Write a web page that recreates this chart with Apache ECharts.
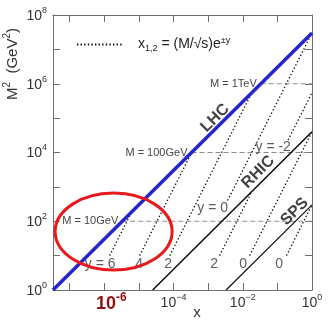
<!DOCTYPE html>
<html><head><meta charset="utf-8">
<script src="https://cdn.jsdelivr.net/npm/echarts@6/dist/echarts.min.js"></script>
<style>html,body{margin:0;padding:0;background:#fff}#c{width:332px;height:322px}</style>
</head><body><div id="c"></div>
<script>
// Kinematic limits (M^2 = x s): endpoints [x], [M^2 in GeV^2]
const lhcX = [3.3e-8, 1];
const lhcM2 = [1, 3.0e7];
const rhicX = [2.5e-5, 1];
const rhicM2 = [1, 4.0e4];
const spsX = [3.3e-3, 1];
const spsM2 = [1, 300];

// Constant-rapidity (dotted) lines: start / end points
const rapNames = ['LHC y=6', 'LHC y=4', 'LHC y=2', 'LHC y=0', 'LHC y=-2', 'RHIC y=2', 'RHIC y=0', 'SPS y=0'];
const rapX = [[1.43e-6, 6.15e-6], [1.05e-5, 3.37e-4], [7.8e-5, 1.83e-2], [3.64e-3, 1], [0.204, 1], [2.14e-3, 1.83e-2], [1.58e-2, 1], [0.183, 1]];
const rapM2 = [[10, 186], [10, 1.02e4], [10, 5.55e5], [400, 3.0e7], [2.3e4, 5.52e5], [10, 731], [10, 4.0e4], [10, 300]];

// Fixed-mass (dashed) lines
const massNames = ['M = 10GeV', 'M = 100GeV', 'M = 1TeV'];
const massM2 = [1e2, 1e4, 1e6];
const massXStart = [3.3e-6, 3.3e-4, 3.3e-2];
const massXEnd = [1, 1, 1];

// Axis ticks with labels (powers of ten)
const yLabelExps = [0, 2, 4, 6, 8];
const xLabelExps = [-6, -4, -2, 0];
const xHighlightExp = -6;

// Text annotations
const noteTexts = ['y = 6', '4', '2', '2', '0', '0', 'y = 0', 'y = -2'];
const noteX = [7.6e-7, 1.01e-5, 6.98e-5, 1.49e-3, 1.03e-2, 0.113, 1.35e-3, 7.57e-2];
const noteM2 = [5.7, 5.7, 5.7, 5.7, 5.7, 5.7, 243, 1.45e4];
const colliderNames = ['LHC', 'RHIC', 'SPS'];
const colliderLabelX = [1.59e-3, 2.79e-2, 0.316];
const colliderLabelM2 = [1.0e5, 2690, 190];

// Highlight ellipse centre (data coords)
const ringX = 1.86e-6, ringM2 = 50;

const chart = echarts.init(document.getElementById('c'), null, {renderer: 'canvas'});
const frame = '#6e6e6e';
const txt = '#333';
const ff = 'Liberation Sans, Arial';

function expOf(v) { const e = Math.log10(v); const r = Math.round(e); return Math.abs(e - r) < 1e-6 ? r : null; }

const axisCommon = {
  type: 'log', logBase: 10,
  axisLine: {show: true, onZero: false, lineStyle: {color: frame, width: 1}},
  axisTick: {show: true, inside: true, length: 7, lineStyle: {color: frame, width: 1}},
  splitLine: {show: false}, minorTick: {show: false}, minorSplitLine: {show: false},
  splitNumber: 8
};
const supRich = {
  b: {fontSize: 14, color: txt, fontFamily: ff, verticalAlign: 'bottom', lineHeight: 16},
  s: {fontSize: 9, color: txt, fontFamily: ff, verticalAlign: 'bottom', padding: [0, 0, 8, 0], lineHeight: 10},
  r: {fontSize: 18, fontWeight: 'bold', color: '#8e1111', fontFamily: ff, verticalAlign: 'bottom', lineHeight: 19, padding: [0, 0, 0, 14]},
  rs: {fontSize: 12, fontWeight: 'bold', color: '#8e1111', fontFamily: ff, verticalAlign: 'bottom', padding: [0, 0, 9, 0], lineHeight: 12}
};

const series = [];
series.push({name: 'LHC', type: 'line', data: lhcX.map((x, i) => [x, lhcM2[i]]), showSymbol: false, symbol: 'none', lineStyle: {color: '#2525cc', width: 3.5}, z: 5, silent: true});
series.push({name: 'RHIC', type: 'line', data: rhicX.map((x, i) => [x, rhicM2[i]]), showSymbol: false, symbol: 'none', lineStyle: {color: '#111', width: 1.6}, z: 4, silent: true});
series.push({name: 'SPS', type: 'line', data: spsX.map((x, i) => [x, spsM2[i]]), showSymbol: false, symbol: 'none', lineStyle: {color: '#111', width: 1.2}, z: 4, silent: true});
rapNames.forEach((n, i) => {
  series.push({name: 'rap', type: 'line', data: [[rapX[i][0], rapM2[i][0]], [rapX[i][1], rapM2[i][1]]], symbol: 'none', showSymbol: false,
    lineStyle: {color: '#111', width: 1.3, type: [1.4, 2.2]}, itemStyle: {color: 'rgba(0,0,0,0)', borderWidth: 0}, z: 3, silent: true});
});
massNames.forEach((n, i) => {
  series.push({name: n, type: 'line', symbol: 'circle', symbolSize: 0, showSymbol: true,
    data: [{value: [massXStart[i], massM2[i]], label: {show: true, position: 'left', distance: 4, formatter: n, fontSize: 11, color: '#444', fontFamily: ff}},
           {value: [massXEnd[i], massM2[i]], label: {show: false}}],
    lineStyle: {color: '#8a8a8a', width: 1, type: [5, 3]}, itemStyle: {color: 'rgba(0,0,0,0)'}, z: 2, silent: true});
});
series.push({name: 'notes', type: 'scatter', symbolSize: 0, silent: true, z: 6,
  data: noteTexts.map((t, i) => ({name: t, value: [noteX[i], noteM2[i]]})),
  itemStyle: {color: 'rgba(0,0,0,0)'},
  label: {show: true, position: 'inside', formatter: '{b}', fontSize: 14, color: txt, fontFamily: ff}});
series.push({name: 'colliders', type: 'scatter', symbolSize: 0, silent: true, z: 6,
  data: colliderNames.map((t, i) => ({name: t, value: [colliderLabelX[i], colliderLabelM2[i]]})),
  itemStyle: {color: 'rgba(0,0,0,0)'},
  label: {show: true, position: 'inside', formatter: '{b}', rotate: 45, fontSize: 16, fontWeight: 'bold', color: '#111', fontFamily: ff}});

const option = {
  animation: false,
  backgroundColor: '#fff',
  grid: {left: 53, right: 20, top: 15, bottom: 32, containLabel: false, outerBoundsMode: 'none'},
  legend: {
    data: [{name: 'rap'}], left: 71, top: 31, itemWidth: 46, itemHeight: 10, selectedMode: false,
    itemStyle: {opacity: 0, borderWidth: 0},
    formatter: () => '{p|}{a|x}{sub|1,2}{a| = (M/\u221As)e}{sup|\u00B1y}',
    textStyle: {rich: {
      p: {width: 10, fontSize: 14},
      a: {fontSize: 14, color: '#222', fontFamily: ff, verticalAlign: 'middle'},
      sub: {fontSize: 9, color: '#222', fontFamily: ff, padding: [8, 0, 0, 0], verticalAlign: 'middle'},
      sup: {fontSize: 9, color: '#222', fontFamily: ff, padding: [0, 0, 8, 0], verticalAlign: 'middle'}
    }}
  },
  xAxis: [
    Object.assign({}, axisCommon, {position: 'bottom', min: lhcX[0], max: 1,
      axisLabel: {show: true, margin: 4, showMinLabel: true, showMaxLabel: true,
        formatter: v => { const e = expOf(v); if (e === null || xLabelExps.indexOf(e) < 0) return '';
          if (e === xHighlightExp) return '{r|10}{rs|' + e + '}';
          return '{b|10}{s|' + (e < 0 ? '\u2212' + (-e) : e) + '}'; },
        rich: supRich}}),
    Object.assign({}, axisCommon, {position: 'top', min: lhcX[0], max: 1, axisLabel: {show: false}})
  ],
  yAxis: [
    Object.assign({}, axisCommon, {position: 'left', min: 1, max: 1e8,
      axisLabel: {show: true, margin: 6, showMinLabel: true, showMaxLabel: true,
        formatter: v => { const e = expOf(v); if (e === null || yLabelExps.indexOf(e) < 0) return ''; return '{b|10}{s|' + e + '}'; },
        rich: supRich}}),
    Object.assign({}, axisCommon, {position: 'right', min: 1, max: 1e8, axisLabel: {show: false}})
  ],
  series: series,
  graphic: [
    {type: 'text', x: 12, y: 64, rotation: Math.PI / 2, silent: true,
      style: {text: '{a|M}{s|2}{a|  (GeV}{s|2}{a|)}', align: 'center', verticalAlign: 'middle',
        rich: {a: {fontSize: 15, fill: txt, fontFamily: ff, verticalAlign: 'bottom', lineHeight: 17},
               s: {fontSize: 10, fill: txt, fontFamily: ff, verticalAlign: 'bottom', padding: [0, 0, 8, 0], lineHeight: 10}}}},
    {type: 'text', x: 197, y: 313, silent: true,
      style: {text: 'x', fontSize: 15, fill: txt, fontFamily: ff, align: 'center', verticalAlign: 'middle'}}
  ]
};
chart.setOption(option);

const c = chart.convertToPixel({xAxisIndex: 0, yAxisIndex: 0}, [ringX, ringM2]);
chart.setOption({graphic: [
  option.graphic[0], option.graphic[1],
  {type: 'ellipse', silent: true, z: 10, shape: {cx: c[0], cy: c[1], rx: 58.5, ry: 38.5}, style: {fill: 'none', stroke: '#e8191c', lineWidth: 3}}
]});
</script></body></html>
